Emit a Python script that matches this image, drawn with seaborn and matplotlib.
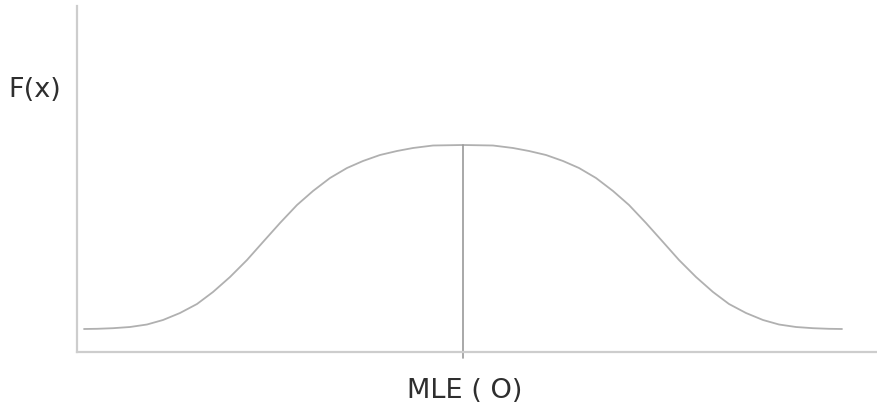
import matplotlib
matplotlib.use("Agg")
import matplotlib.pyplot as plt
import seaborn as sns
import pandas as pd

# curve: offset from the MLE and height above the x axis
x_offset = [-379, -366, -350, -333, -316, -300, -283, -266, -250, -233, -216,
            -200, -183, -166, -150, -133, -116, -100, -83, -66, -50, -30, 0,
            30, 50, 66, 83, 100, 116, 133, 150, 166, 183, 200, 216, 233, 250,
            266, 283, 300, 316, 333, 350, 366, 379]
height = [23, 23.2, 23.8, 25, 27.5, 32, 39, 48, 60, 75, 92,
          110, 129, 147, 161, 174, 184, 191, 197, 201, 204, 206.5, 207,
          206.5, 204, 201, 197, 191, 184, 174, 161, 147, 129, 110, 92, 75, 60,
          48, 39, 32, 27.5, 25, 23.8, 23.2, 23]

x_label = "MLE ( O)"
y_label = "F(x)"

DPI = 100
W, H = 878, 405

sns.set_style("white")
plt.rcParams["font.family"] = ["DejaVu Sans"]

fig = plt.figure(figsize=(W / DPI, H / DPI), dpi=DPI)
ax = fig.add_axes([77 / W, 53 / H, (W - 77) / W, 346 / H])

df = pd.DataFrame({"x": x_offset, "f": height})
sns.lineplot(data=df, x="x", y="f", ax=ax, color="#b0b0b0", linewidth=1.3,
             sort=False)

# line at the MLE from just under the axis to the top of the curve
ax.plot([0, 0], [-6, max(height)], color="#999999", linewidth=1.2, clip_on=False)

ax.set_xlim(-386, 415)
ax.set_ylim(0, 346)
ax.set_xticks([])
ax.set_yticks([])
ax.set_xlabel("")
ax.set_ylabel("")

for side in ("top", "right"):
    ax.spines[side].set_visible(False)
for side in ("left", "bottom"):
    ax.spines[side].set_color("#cdcdcd")
    ax.spines[side].set_linewidth(1.6)

fig.text(8 / W, 1 - 97 / H, y_label, fontsize=19.5, color="#2e2e2e",
         ha="left", va="baseline")
fig.text(407 / W, 1 - 398 / H, x_label, fontsize=19.5, color="#2e2e2e",
         ha="left", va="baseline")

fig.savefig("out.png", dpi=DPI)
